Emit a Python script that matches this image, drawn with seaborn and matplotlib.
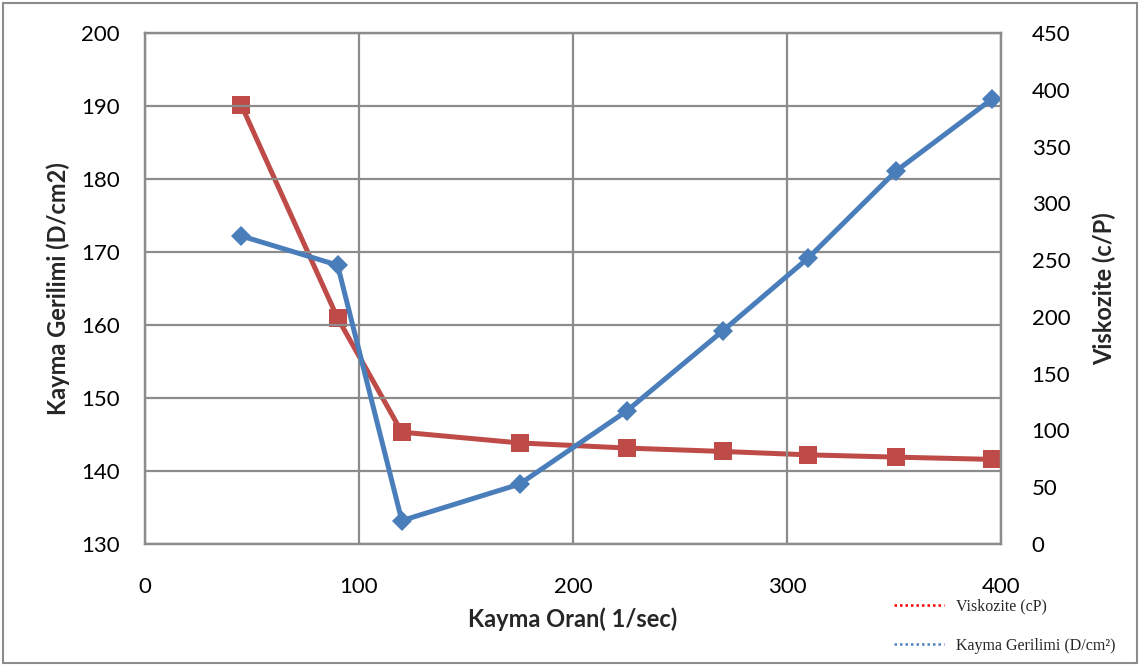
import matplotlib
matplotlib.use("Agg")
import matplotlib.pyplot as plt
from matplotlib.lines import Line2D
from matplotlib.patches import Rectangle
import seaborn as sns
import pandas as pd

# Shear rate (1/sec)
shear_rate = [45, 90, 120, 175, 225, 270, 310, 351, 396]
# Shear stress (D/cm2), left axis
shear_stress = [172.2, 168.2, 133.2, 138.2, 148.2, 159.2, 169.2, 181.1, 191.0]
# Viscosity (cP), right axis
viscosity = [386.5, 199.0, 98.5, 89.0, 84.5, 81.5, 78.5, 76.5, 74.5]

left_ticks = [130, 140, 150, 160, 170, 180, 190, 200]
right_ticks = [0, 50, 100, 150, 200, 250, 300, 350, 400, 450]
x_ticks = [0, 100, 200, 300, 400]

BLUE = "#4A7EBB"
RED = "#BE4B48"
GRID = "#8C8C8C"

sns.set_style("white")
plt.rcParams["font.family"] = ["Lato", "DejaVu Sans"]

df = pd.DataFrame({"rate": shear_rate, "stress": shear_stress, "visc": viscosity})

fig = plt.figure(figsize=(11.4, 6.66), dpi=100)
ax = fig.add_axes([145 / 1140, 1 - 544 / 666, (1001 - 145) / 1140, (544 - 33) / 666])
ax2 = ax.twinx()

sns.lineplot(data=df, x="rate", y="visc", ax=ax2, color=RED, lw=3.6,
             marker="s", markersize=13.5, markeredgewidth=0, sort=False)
sns.lineplot(data=df, x="rate", y="stress", ax=ax, color=BLUE, lw=3.6,
             marker="D", markersize=10.5, markeredgewidth=0, sort=False)

# keep the stress series above the viscosity series
ax.set_zorder(ax2.get_zorder() + 1)
ax.patch.set_visible(False)

ax.set_xlim(0, 400)
ax.set_ylim(130, 200)
ax2.set_ylim(0, 450)
ax.set_xticks(x_ticks)
ax.set_yticks(left_ticks)
ax2.set_yticks(right_ticks)

ax.grid(True, color=GRID, lw=1.6)
ax2.grid(False)
for a in (ax, ax2):
    for s in a.spines.values():
        s.set_color(GRID)
        s.set_linewidth(1.6)
    a.tick_params(length=0, labelsize=16, colors="black")
ax.tick_params(axis="x", pad=24)
ax.tick_params(axis="y", pad=18)
ax2.tick_params(axis="y", pad=22)

ax.set_xlabel("Kayma Oran( 1/sec)", fontsize=17, fontweight="bold", labelpad=7)
ax.set_ylabel("Kayma Gerilimi (D/cm2)", fontsize=17, fontweight="bold", labelpad=8)
ax2.set_ylabel("Viskozite (c/P)", fontsize=17, fontweight="bold", labelpad=16)

handles = [
    Line2D([], [], color="#FF0000", lw=1.8, linestyle=(0, (1, 1.2))),
    Line2D([], [], color="#4F81BD", lw=1.8, linestyle=(0, (1, 1.2))),
]
fig.legend(handles, ["Viskozite (cP)", "Kayma Gerilimi (D/cm²)"],
           loc="upper left", bbox_to_anchor=(880 / 1140, 1 - 584 / 666),
           frameon=False, handlelength=3.1, handletextpad=0.75, labelspacing=1.45,
           prop={"family": "Liberation Serif", "size": 11.5})

# outer chart border
fig.patches.append(Rectangle((3 / 1140, 3 / 666), 1 - 6 / 1140, 1 - 6 / 666,
                             transform=fig.transFigure, fill=False,
                             edgecolor="#8C8C8C", lw=1.5))

fig.savefig("out.png", dpi=100)
